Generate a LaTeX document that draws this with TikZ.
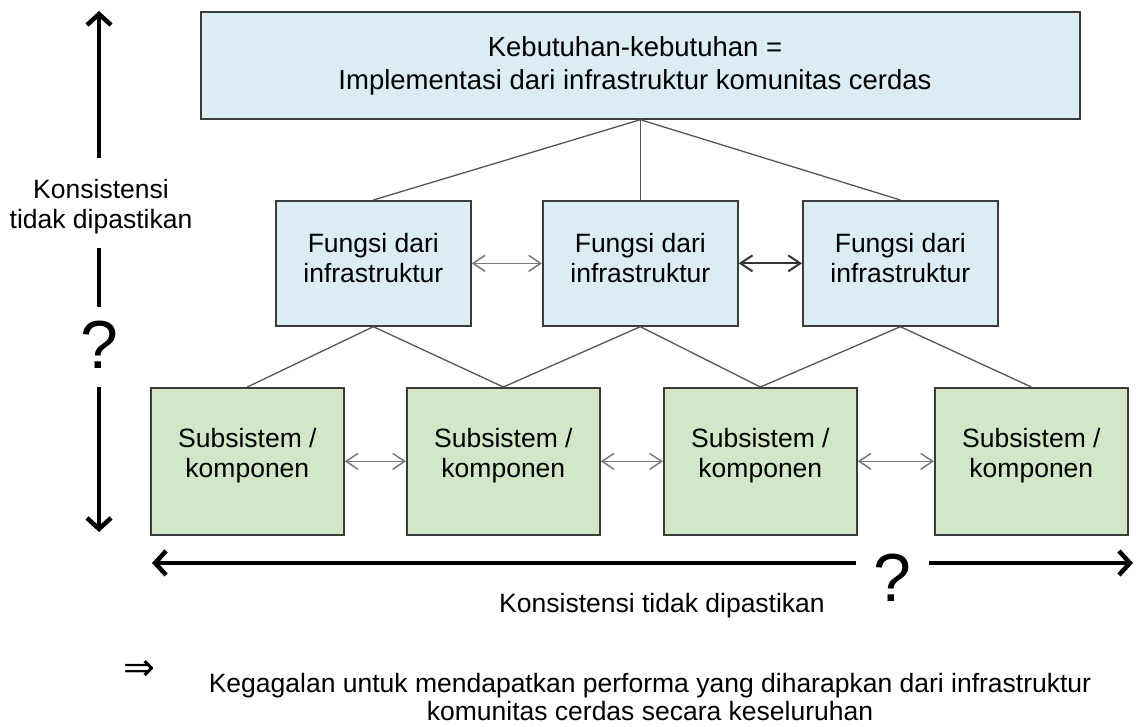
\documentclass[tikz,border=0pt]{standalone}
\usepackage{fontspec}
\setmainfont{Liberation Sans}
\newfontfamily\arrowfont{DejaVu Sans}
\usetikzlibrary{arrows.meta}
\definecolor{bluefill}{HTML}{DBEDF3}
\definecolor{greenfill}{HTML}{D1E7C8}
\definecolor{boxline}{HTML}{3C3C3C}
\definecolor{connline}{HTML}{555555}
\definecolor{linkgray}{HTML}{7A7A7A}
\begin{document}
\begin{tikzpicture}[x=1pt,y=-1pt,
  font=\fontsize{26.5}{30}\selectfont,
  box/.style={draw=boxline, line width=1.7pt, inner sep=0pt, anchor=north west},
  needbox/.style={box, fill=bluefill, minimum width=879pt, minimum height=107pt},
  funcbox/.style={box, fill=bluefill, minimum width=195pt, minimum height=125pt},
  compbox/.style={box, fill=greenfill, minimum width=193pt, minimum height=147pt},
  label/.style={align=center, inner sep=0pt},
  conn/.style={draw=connline, line width=1.3pt},
  link/.style={draw=linkgray, line width=1.5pt, {Straight Barb[length=12pt,width=16pt]}-{Straight Barb[length=12pt,width=16pt]}},
  boldlink/.style={link, draw=black!80, line width=2pt},
  bigarrow/.style={draw=black, line width=4.5pt, -{Straight Barb[length=11pt,width=24pt,line width=4.5pt]}},
  bigline/.style={draw=black, line width=4.5pt},
  qmark/.style={inner sep=0pt, font=\fontsize{68}{68}\selectfont}
]
\useasboundingbox (0,0) rectangle (1136,727);

% requirement box
\node[needbox] (need) at (200,11) {};
\node[label, font=\fontsize{27.5}{33}\selectfont] (needtext) at (635,66) {Kebutuhan-kebutuhan =\\Implementasi dari infrastruktur komunitas cerdas};

% infrastructure functions
\node[funcbox] (f1) at (275,200) {};
\node[funcbox] (f2) at (542,200) {};
\node[funcbox] (f3) at (802,200) {};
\foreach \f in {f1,f2,f3}
  \node[label] (\f text) at ([yshift=5pt]\f.center) {Fungsi dari\\infrastruktur};

% subsystems / components
\node[compbox] (g1) at (150,387) {};
\node[compbox] (g2) at (406,387) {};
\node[compbox] (g3) at (663,387) {};
\node[compbox] (g4) at (934,387) {};
\foreach \g in {g1,g2,g3,g4}
  \node[label] (\g text) at ([yshift=6pt]\g.center) {Subsistem /\\komponen};

% hierarchy connectors
\draw[conn] (need.south) -- (f1.north);
\draw[conn] (need.south) -- (f2.north);
\draw[conn] (need.south) -- (f3.north);
\draw[conn] (f1.south) -- (g1.north);
\draw[conn] (f1.south) -- (g2.north);
\draw[conn] (f2.south) -- (g2.north);
\draw[conn] (f2.south) -- (g3.north);
\draw[conn] (f3.south) -- (g3.north);
\draw[conn] (f3.south) -- (g4.north);

% interfaces between neighbours
\draw[link] (f1.east) -- (f2.west);
\draw[boldlink] (f2.east) -- (f3.west);
\draw[link] (g1.east) -- (g2.west);
\draw[link] (g2.east) -- (g3.west);
\draw[link] (g3.east) -- (g4.west);

% vertical consistency axis
\coordinate (vtop) at (99,11);
\coordinate (vbot) at (99,532);
\node[label] (vtext) at (101,207) {Konsistensi\\tidak dipastikan};
\node[qmark] (vq) at (99,345) {?};
\coordinate (va) at (99,158);
\coordinate (vb) at (99,248);
\coordinate (vc) at (99,307);
\coordinate (vd) at (99,387);
\draw[bigarrow] (va) -- (vtop);
\draw[bigline] (vb) -- (vc);
\draw[bigarrow] (vd) -- (vbot);

% horizontal consistency axis
\coordinate (hleft) at (152,563);
\coordinate (hright) at (1133,563);
\node[qmark] (hq) at (892,578) {?};
\coordinate (ha) at (856,563);
\coordinate (hb) at (929,563);
\draw[bigarrow] (ha) -- (hleft);
\draw[bigarrow] (hb) -- (hright);
\node[label] (htext) at (662,606) {Konsistensi tidak dipastikan};

% consequence
\node[inner sep=0pt, font=\arrowfont\fontsize{38}{38}\selectfont] (impl) at (139,670) {⇒};
\node[label, font=\fontsize{26.5}{28}\selectfont] (result) at (650,697) {Kegagalan untuk mendapatkan performa yang diharapkan dari infrastruktur\\komunitas cerdas secara keseluruhan};
\end{tikzpicture}
\end{document}
